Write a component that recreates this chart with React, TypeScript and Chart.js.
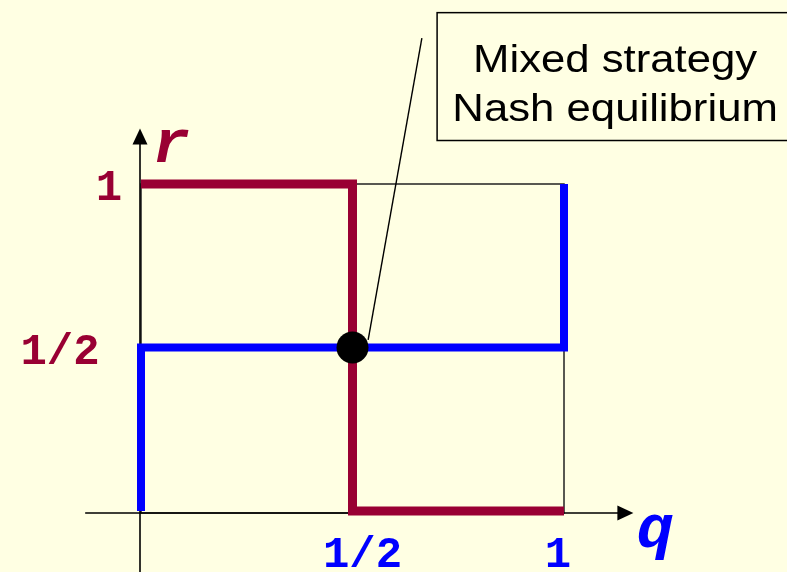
import React, { useEffect, useRef } from "react";
import { Chart, registerables } from "chart.js";

Chart.register(...registerables);

// Best-response correspondences (q on x, r on y)
const redQ = [0, 0.5, 0.5, 1];
const redR = [1, 1, 0, 0];
const blueQ = [0, 0, 1, 1];
const blueR = [0, 0.5, 0.5, 1];
const equilibriumQ = [0.5];
const equilibriumR = [0.5];

const xTicks = [0.5, 1];
const xTickLabels = ["1/2", "1"];
const yTicks = [0.5, 1];
const yTickLabels = ["1/2", "1"];
const xTitle = "q";
const yTitle = "r";
const calloutLines = ["Mixed strategy", "Nash equilibrium"];

const BG = "#FFFFE3";
const MAROON = "#990033";
const BLUE = "#0000FF";

const overlay = {
  id: "overlay",
  beforeDraw(chart: any) {
    const { ctx, width, height } = chart;
    ctx.save();
    ctx.fillStyle = BG;
    ctx.fillRect(0, 0, width, height);
    ctx.restore();
  },
  beforeDatasetsDraw(chart: any) {
    const { ctx } = chart;
    const xs = chart.scales.x;
    const ys = chart.scales.y;
    const x0 = xs.getPixelForValue(0);
    const x1 = xs.getPixelForValue(1);
    const y0 = ys.getPixelForValue(0);
    const y1 = ys.getPixelForValue(1);
    ctx.save();
    // unit square outline
    ctx.strokeStyle = "#222";
    ctx.lineWidth = 1.5;
    ctx.strokeRect(x0, y1, x1 - x0, y0 - y1 + 2);
    // axes
    ctx.strokeStyle = "#000";
    ctx.lineWidth = 1.6;
    const ax = x0 - 1;
    const ay = y0 + 2;
    ctx.beginPath();
    ctx.moveTo(xs.getPixelForValue(-0.132), ay);
    ctx.lineTo(xs.getPixelForValue(1.13), ay);
    ctx.moveTo(ax, chart.height);
    ctx.lineTo(ax, ys.getPixelForValue(1.15));
    ctx.stroke();
    ctx.fillStyle = "#000";
    // x arrow
    const xt = xs.getPixelForValue(1.164);
    ctx.beginPath();
    ctx.moveTo(xt, ay);
    ctx.lineTo(xt - 16, ay - 7.5);
    ctx.lineTo(xt - 16, ay + 7.5);
    ctx.closePath();
    ctx.fill();
    // y arrow
    const yt = ys.getPixelForValue(1.17);
    ctx.beginPath();
    ctx.moveTo(ax, yt);
    ctx.lineTo(ax - 7.5, yt + 16);
    ctx.lineTo(ax + 7.5, yt + 16);
    ctx.closePath();
    ctx.fill();
    ctx.restore();
  },
  afterDatasetsDraw(chart: any) {
    const { ctx } = chart;
    const xs = chart.scales.x;
    const ys = chart.scales.y;
    const x0 = xs.getPixelForValue(0);
    const y0 = ys.getPixelForValue(0);
    ctx.save();
    // callout pointer
    ctx.strokeStyle = "#000";
    ctx.lineWidth = 1.4;
    ctx.beginPath();
    ctx.moveTo(xs.getPixelForValue(0.537), ys.getPixelForValue(0.523));
    ctx.lineTo(xs.getPixelForValue(0.664), ys.getPixelForValue(1.446));
    ctx.stroke();
    // callout box
    const bx = xs.getPixelForValue(0.7);
    const by = ys.getPixelForValue(1.524);
    const bb = ys.getPixelForValue(1.133);
    ctx.fillStyle = BG;
    ctx.fillRect(bx, by, chart.width - bx + 10, bb - by);
    ctx.lineWidth = 1.5;
    ctx.strokeRect(bx, by, chart.width - bx + 10, bb - by);
    ctx.fillStyle = "#000";
    ctx.font = '38px "Liberation Sans", Arial, sans-serif';
    ctx.textAlign = "center";
    ctx.textBaseline = "alphabetic";
    const cx = bx + 178;
    calloutLines.forEach((t, i) => {
      ctx.save();
      ctx.translate(cx, by + 59 + i * 49);
      ctx.scale(1.15, 1);
      ctx.fillText(t, 0, 0);
      ctx.restore();
    });

    // tick labels
    ctx.font = 'bold 44px "Liberation Mono", "Courier New", monospace';
    ctx.textAlign = "center";
    ctx.fillStyle = MAROON;
    const yOff = [-81, -32];
    yTicks.forEach((v, i) => {
      ctx.fillText(yTickLabels[i], x0 + yOff[i], ys.getPixelForValue(v) + 16);
    });
    ctx.fillStyle = BLUE;
    const xOff = [10, -6];
    xTicks.forEach((v, i) => {
      ctx.fillText(xTickLabels[i], xs.getPixelForValue(v) + xOff[i], y0 + 56);
    });
    // axis titles
    ctx.font = 'italic bold 62px "Liberation Mono", "Courier New", monospace';
    ctx.fillStyle = MAROON;
    ctx.fillText(yTitle, x0 + 30, ys.getPixelForValue(1) - 22);
    ctx.fillStyle = BLUE;
    ctx.fillText(xTitle, xs.getPixelForValue(1) + 91, y0 + 36);
    ctx.restore();
  },
};

export default function App() {
  const ref = useRef<HTMLCanvasElement | null>(null);
  useEffect(() => {
    document.body.style.margin = "0";
    document.body.style.background = BG;
    const canvas = ref.current!;
    const chart = new Chart(canvas, {
      type: "line",
      data: {
        datasets: [
          {
            data: redQ.map((q, i) => ({ x: q, y: redR[i] })),
            borderColor: MAROON,
            borderWidth: 9,
            pointRadius: 0,
            tension: 0,
            fill: false,
            clip: false as any,
            borderCapStyle: "butt",
            borderJoinStyle: "miter",
            order: 2,
          } as any,
          {
            data: blueQ.map((q, i) => ({ x: q, y: blueR[i] })),
            borderColor: BLUE,
            borderWidth: 8,
            pointRadius: 0,
            tension: 0,
            fill: false,
            clip: false as any,
            borderCapStyle: "butt",
            borderJoinStyle: "miter",
            order: 3,
          } as any,
          {
            type: "scatter",
            data: equilibriumQ.map((q, i) => ({ x: q, y: equilibriumR[i] })),
            backgroundColor: "#000",
            borderColor: "#000",
            borderWidth: 0,
            pointRadius: 16,
            pointHoverRadius: 16,
            showLine: false,
            clip: false as any,
            order: 0,
          } as any,
        ],
      },
      options: {
        responsive: false,
        devicePixelRatio: 1,
        animation: false,
        events: [],
        layout: { padding: { left: 141, right: 223, top: 184, bottom: 61 } },
        plugins: {
          legend: { display: false },
          tooltip: { enabled: false },
          title: { display: false },
        },
        scales: {
          x: { type: "linear", min: 0, max: 1, display: false },
          y: { type: "linear", min: 0, max: 1, display: false },
        },
      },
      plugins: [overlay],
    });
    return () => chart.destroy();
  }, []);
  return (
    <div style={{ position: "fixed", left: 0, top: 0, width: 787, height: 572 }}>
      <canvas ref={ref} width={787} height={572} style={{ width: 787, height: 572, display: "block" }} />
    </div>
  );
}
